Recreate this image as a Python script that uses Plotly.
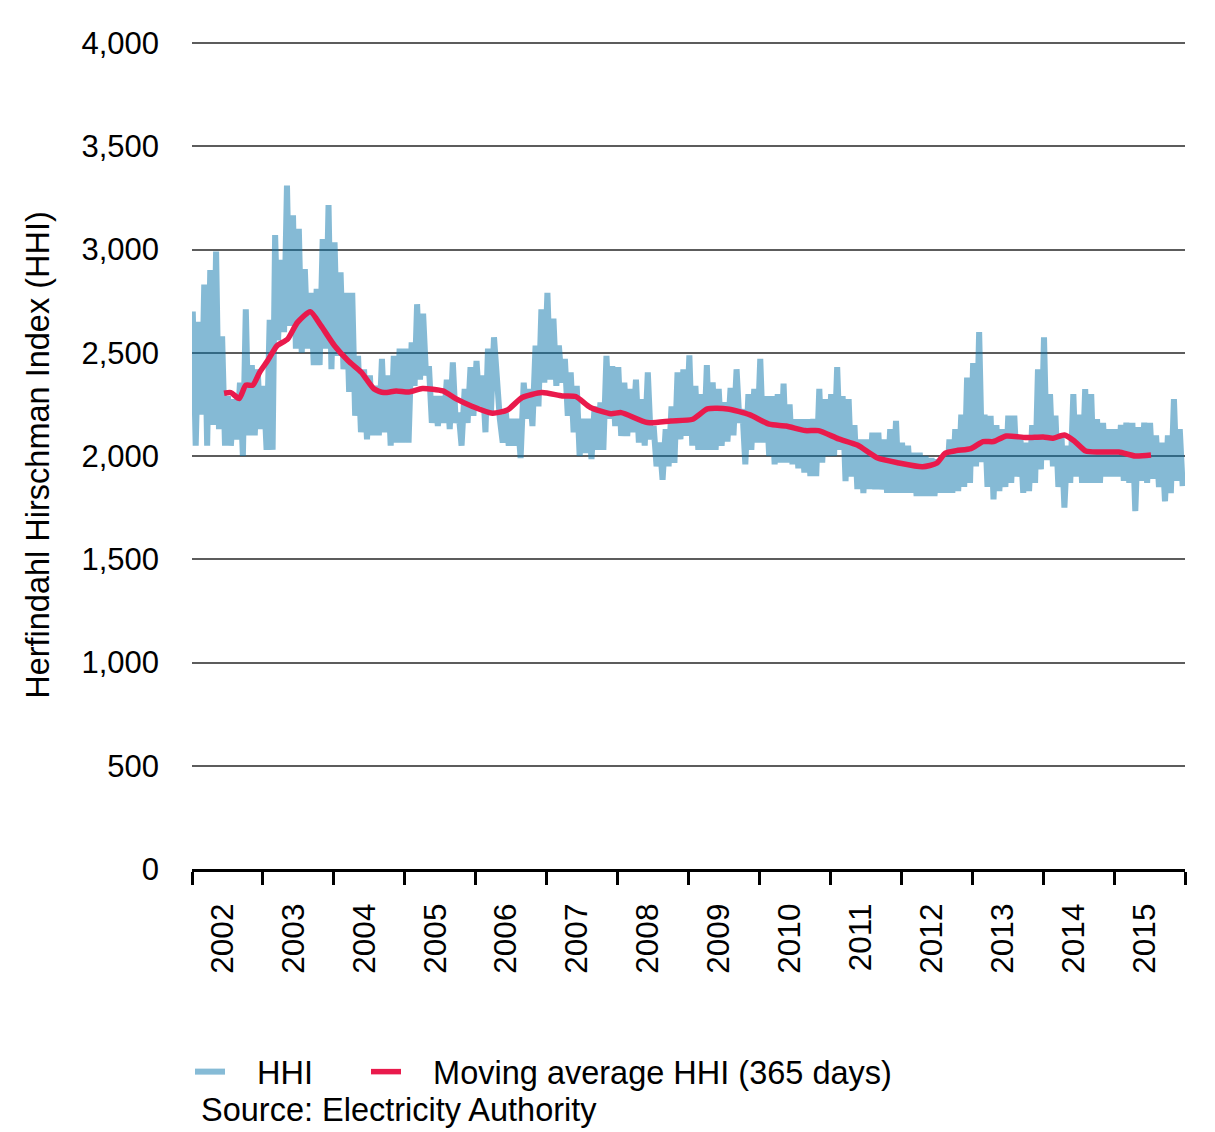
import plotly.graph_objects as go
import pandas as pd

# ---- data ----
# Monthly high / low of the daily HHI (Jan..Dec for each year 2002-2015)
hhi_monthly_high = [
    2700, 2650, 2830, 2900, 2990, 2580, 2290, 2275, 2355, 2710, 2440, 2420,  # 2002
    2340, 2660, 3070, 2950, 3310, 3165, 3100, 2905, 2790, 2810, 3050, 3215,  # 2003
    3035, 2890, 2790, 2790, 2485, 2420, 2390, 2340, 2470, 2390, 2485, 2520,  # 2004
    2520, 2550, 2735, 2690, 2435, 2290, 2290, 2370, 2453, 2210, 2325, 2430,  # 2005
    2460, 2390, 2520, 2575, 2180, 2210, 2180, 2180, 2355, 2325, 2535, 2710,  # 2006
    2790, 2665, 2535, 2470, 2405, 2340, 2180, 2180, 2240, 2260, 2485, 2435,  # 2007
    2430, 2355, 2325, 2370, 2275, 2405, 2145, 2065, 2130, 2240, 2405, 2420,  # 2008
    2487, 2340, 2300, 2440, 2357, 2325, 2260, 2330, 2420, 2227, 2300, 2325,  # 2009
    2470, 2290, 2290, 2300, 2350, 2250, 2178, 2178, 2178, 2180, 2325, 2275,  # 2010
    2300, 2430, 2290, 2275, 2150, 2080, 2080, 2113, 2113, 2080, 2130, 2170,  # 2011
    2065, 2050, 2016, 2016, 2000, 1990, 1984, 2000, 2080, 2130, 2200, 2380,  # 2012
    2450, 2600, 2200, 2195, 2150, 2130, 2195, 2195, 2100, 2065, 2150, 2420,  # 2013
    2575, 2300, 2195, 2100, 2050, 2300, 2200, 2324, 2300, 2178, 2160, 2130,  # 2014
    2130, 2150, 2162, 2160, 2140, 2162, 2160, 2100, 2065, 2100, 2275, 2130,  # 2015
]
hhi_monthly_low = [
    2050, 2200, 2050, 2150, 2130, 2050, 2050, 2080, 2000, 2100, 2100, 2130,  # 2002
    2030, 2030, 2560, 2600, 2630, 2520, 2500, 2520, 2440, 2440, 2520, 2420,  # 2003
    2485, 2420, 2310, 2195, 2115, 2080, 2100, 2100, 2115, 2050, 2065, 2065,  # 2004
    2065, 2340, 2370, 2390, 2160, 2145, 2160, 2130, 2160, 2050, 2160, 2195,  # 2005
    2240, 2115, 2210, 2325, 2065, 2050, 2050, 1990, 2180, 2145, 2240, 2355,  # 2006
    2370, 2340, 2355, 2195, 2115, 2000, 2015, 1985, 2030, 2030, 2180, 2145,  # 2007
    2097, 2097, 2115, 2065, 2050, 2080, 1950, 1885, 1950, 1967, 2080, 2097,  # 2008
    2050, 2030, 2030, 2030, 2030, 2050, 2070, 2100, 2160, 1960, 2030, 2065,  # 2009
    2065, 2000, 1960, 1968, 1968, 1960, 1940, 1920, 1903, 1903, 1968, 2000,  # 2010
    2000, 2030, 1878, 1900, 1840, 1820, 1840, 1838, 1838, 1822, 1822, 1822,  # 2011
    1822, 1822, 1806, 1806, 1806, 1806, 1822, 1822, 1822, 1830, 1850, 1870,  # 2012
    1950, 1970, 1850, 1790, 1830, 1850, 1870, 1900, 1822, 1830, 1870, 1935,  # 2013
    1980, 1950, 1850, 1750, 1870, 1900, 1870, 1870, 1870, 1870, 1900, 1900,  # 2014
    1900, 1880, 1870, 1733, 1880, 1870, 1890, 1850, 1780, 1820, 1880, 1854,  # 2015
]

# 365-day moving average (read at irregular dates)
ma_dates = [
    "2002-06-15", "2002-07-20", "2002-09-01", "2002-10-05", "2002-11-10", "2002-12-15",
    "2003-01-25", "2003-03-15", "2003-05-08", "2003-06-28", "2003-09-02", "2003-10-27",
    "2004-01-05", "2004-03-15", "2004-05-22", "2004-07-27", "2004-09-15", "2004-11-17",
    "2005-01-22", "2005-04-01", "2005-07-16", "2005-09-20", "2005-12-15",
    "2006-03-28", "2006-06-13", "2006-08-28", "2006-12-08",
    "2007-03-22", "2007-05-31", "2007-08-15", "2007-11-28",
    "2008-01-20", "2008-06-03", "2008-10-01",
    "2009-01-22", "2009-04-08", "2009-07-20", "2009-11-10",
    "2010-02-20", "2010-05-18", "2010-08-25", "2010-11-01",
    "2011-02-12", "2011-05-20", "2011-09-01", "2011-12-20",
    "2012-04-20", "2012-07-01", "2012-08-15", "2012-10-10", "2012-12-25",
    "2013-02-25", "2013-04-20", "2013-06-25", "2013-10-05",
    "2014-01-01", "2014-02-20", "2014-04-20", "2014-06-10", "2014-08-08", "2014-10-15",
    "2015-01-25", "2015-04-20", "2015-07-10",
]
ma_values = [
    2304, 2307, 2278, 2343, 2343, 2405,
    2461, 2534, 2566, 2647, 2699, 2631,
    2534, 2461, 2405, 2324, 2307, 2315,
    2310, 2327, 2315, 2278, 2240,
    2207, 2223, 2283, 2307,
    2291, 2288, 2235, 2205,
    2210, 2162, 2170,
    2178, 2228, 2228, 2200,
    2154, 2145, 2123, 2123,
    2083, 2053, 1990, 1966,
    1948, 1965, 2014, 2026, 2036,
    2070, 2070, 2097, 2089,
    2092, 2086, 2102, 2073, 2024, 2019,
    2019, 2000, 2005,
]

y_ticks = [0, 500, 1000, 1500, 2000, 2500, 3000, 3500, 4000]
series_names = ["HHI", "Moving average HHI (365 days)"]
source_text = "Source: Electricity Authority"
y_title = "Herfindahl Hirschman Index (HHI)"

# ---- build daily-like HHI path from monthly highs/lows ----
months = pd.date_range("2002-01-01", periods=len(hhi_monthly_high), freq="MS")
x_hhi, y_hhi = [], []
for m, hi, lo in zip(months, hhi_monthly_high, hhi_monthly_low):
    x_hhi += [m + pd.Timedelta(days=4), m + pd.Timedelta(days=19)]
    y_hhi += [hi, lo]

PAD = "\u00a0\u00a0\u00a0"
fig = go.Figure()
fig.add_trace(go.Scatter(
    x=x_hhi, y=y_hhi, mode="lines", name=PAD + series_names[0], legend="legend",
    line=dict(color="rgb(13,119,173)", width=6), opacity=0.5,
))
fig.add_trace(go.Scatter(
    x=pd.to_datetime(ma_dates), y=ma_values, mode="lines", name=PAD + series_names[1],
    legend="legend2",
    line=dict(color="#E91A4C", width=5.5, shape="spline", smoothing=0.6),
))

# plot area: x 192..1185, y 41..869 (4000 gridline lands at y=43)
PLOT_L, PLOT_W, PLOT_T, PLOT_B = 192, 993, 41, 869
PLOT_H = PLOT_B - PLOT_T
y_top = 4000 * PLOT_H / (PLOT_H - 2)


def py(px):
    return (PLOT_B - px) / PLOT_H


leg_common = dict(orientation="h", xanchor="left", y=py(1072), yanchor="middle",
                  font=dict(size=32.5), itemwidth=30, bgcolor="rgba(0,0,0,0)", borderwidth=0)
fig.update_layout(
    width=1215, height=1132, autosize=False,
    margin=dict(l=PLOT_L, r=1215 - PLOT_L - PLOT_W, t=PLOT_T, b=1132 - PLOT_B),
    paper_bgcolor="white", plot_bgcolor="white",
    font=dict(family="Liberation Sans, Arial, sans-serif", size=31, color="black"),
    showlegend=True,
    legend=dict(x=(190 - PLOT_L) / PLOT_W, **leg_common),
    legend2=dict(x=(366 - PLOT_L) / PLOT_W, **leg_common),
    annotations=[dict(text=source_text, xref="paper", yref="paper",
                      x=(199 - PLOT_L) / PLOT_W, y=py(1110), xanchor="left", yanchor="middle",
                      showarrow=False, font=dict(size=32.5))],
)
fig.update_xaxes(
    type="date", range=["2002-01-01", "2016-01-01"], dtick="M12", tick0="2002-01-01",
    tickformat="%Y", ticklabelmode="period", tickangle=-90,
    ticks="outside", ticklen=13, tickwidth=3, tickcolor="black",
    showline=True, linecolor="black", linewidth=3, showgrid=False, zeroline=False,
    tickfont=dict(size=31.5), ticklabelstandoff=6, ticklabelshift=-5,
)
fig.update_yaxes(
    range=[0, y_top], tickvals=y_ticks, tickformat=",", showgrid=True,
    gridcolor="#5c5c5c", gridwidth=2, zeroline=False, showline=False, ticks="",
    ticklabelstandoff=32, tickfont=dict(size=31),
    title=dict(text=y_title, font=dict(size=32.5), standoff=22),
)

fig.write_html("out.html")
